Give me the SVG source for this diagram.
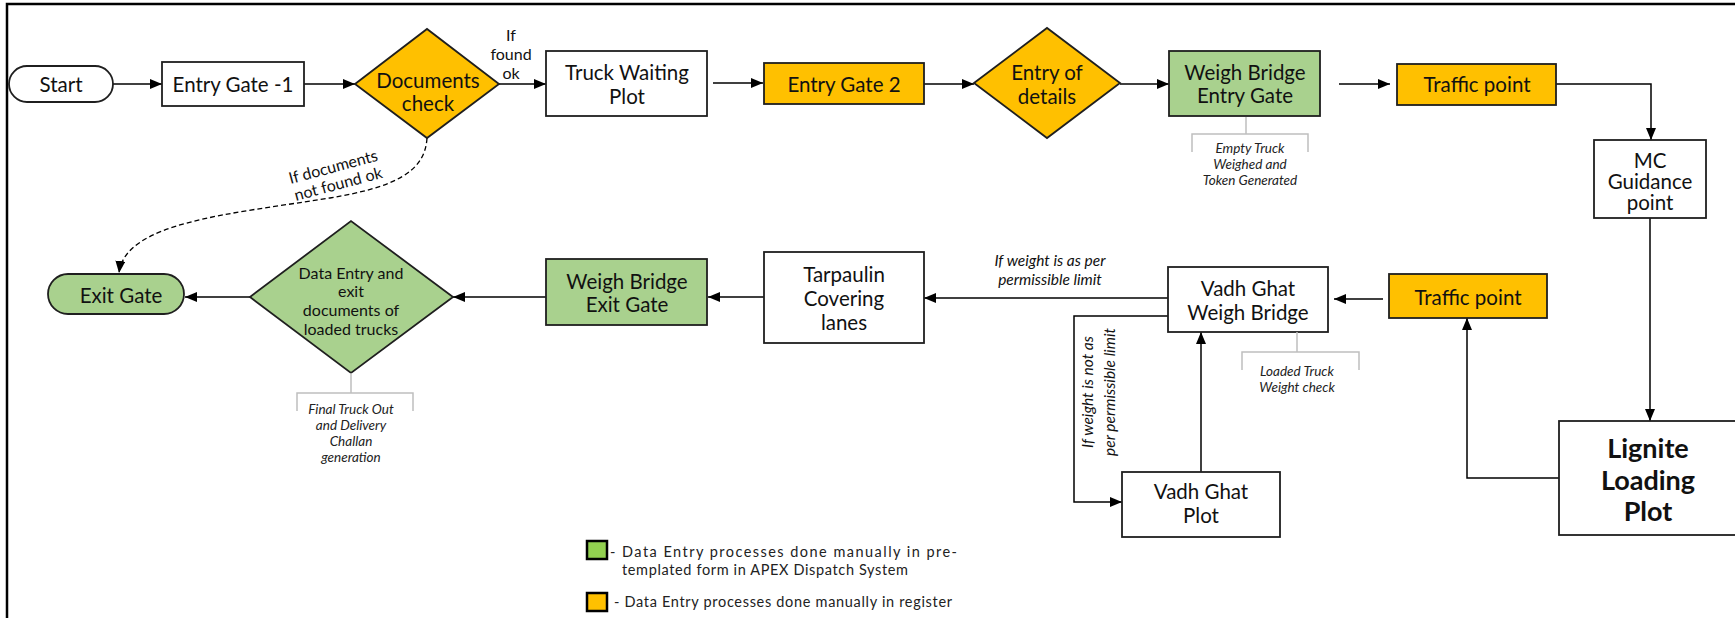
<svg xmlns="http://www.w3.org/2000/svg" width="1735" height="618" viewBox="0 0 1735 618">
<defs>
<marker id="ah" viewBox="0 0 12 10" refX="12" refY="5" markerWidth="12" markerHeight="10" markerUnits="userSpaceOnUse" orient="auto"><path d="M0,0 L12,5 L0,10 z" fill="#000"/></marker>
</defs>
<style>
.n{stroke:#1f1f1f;stroke-width:1.8}
.w{fill:#fff}
.o{fill:#FFC000}
.g{fill:#A9D18E}
.t{font-family:Lato,"Liberation Sans",sans-serif;font-size:20.5px;fill:#111;text-anchor:middle;dominant-baseline:central}
.s{font-size:16px}
.b{font-weight:bold;font-size:27px}
.i{font-family:Lato,"Liberation Sans",sans-serif;font-style:italic;font-size:15.5px;fill:#111;text-anchor:middle;dominant-baseline:central}
.a{font-family:Lato,"Liberation Sans",sans-serif;font-style:italic;font-size:13.5px;fill:#222;text-anchor:middle;dominant-baseline:central}
.lg{font-family:Lato,"Liberation Sans",sans-serif;font-size:14.5px;fill:#222;dominant-baseline:central}
.c{fill:none;stroke:#000;stroke-width:1.5;marker-end:url(#ah)}
.d{fill:none;stroke:#000;stroke-width:1.3;stroke-dasharray:5 3;marker-end:url(#ah)}
.br{fill:none;stroke:#BFBFBF;stroke-width:1.5}
</style>
<rect x="0" y="0" width="1735" height="618" fill="#fff"/>
<path d="M7,618 V4 H1735" fill="none" stroke="#000" stroke-width="2.5"/>

<g id="connectors">
<path class="c" d="M113,84 H162"/>
<path class="c" d="M304,84 H355"/>
<path class="c" d="M499,84 H546"/>
<path class="c" d="M713,83 H763"/>
<path class="c" d="M924,84 H974"/>
<path class="c" d="M1120,84 H1169"/>
<path class="c" d="M1339,84 H1390"/>
<path class="c" d="M1556,84 H1651 V140"/>
<path class="c" d="M1650,218 V421"/>
<path class="c" d="M1559,478 H1467 V318"/>
<path class="c" d="M1383,299 H1334"/>
<path class="c" d="M1201,472 V332"/>
<path class="c" d="M1168,316 H1074 V502 H1122"/>
<path class="c" d="M1168,298 H924"/>
<path class="c" d="M764,297 H708"/>
<path class="c" d="M546,297 H453"/>
<path class="c" d="M250,297 H185"/>
<path class="d" d="M427,138 C425,172 395,187 330,198 C230,214 125,222 119,273"/>
<text class="t s" transform="rotate(-15 333 166)" x="333" y="166">If documents</text>
<text class="t s" transform="rotate(-15 338 183)" x="338" y="183">not found ok</text>
<text class="t s" x="511" y="34">If</text>
<text class="t s" x="511" y="53">found</text>
<text class="t s" x="511" y="72">ok</text>
<text class="i" x="1050" y="260">If weight is as per</text>
<text class="i" x="1050" y="279">permissible limit</text>
<text class="i" transform="rotate(-90 1087 392)" x="1087" y="392">If weight is not as</text>
<text class="i" transform="rotate(-90 1109 392)" x="1109" y="392">per permissible limit</text>
</g>

<g id="start">
<rect class="n w" x="9" y="66" width="104" height="36" rx="18"/>
<text class="t" x="61" y="84">Start</text>
</g>
<g id="entry-gate-1">
<rect class="n w" x="162" y="62" width="142" height="44"/>
<text class="t" x="233" y="84">Entry Gate -1</text>
</g>
<g id="documents-check">
<polygon class="n o" points="355,84 427,29 499,84 427,138"/>
<text class="t" x="428" y="80">Documents</text>
<text class="t" x="428" y="103">check</text>
</g>
<g id="truck-waiting-plot">
<rect class="n w" x="546" y="51" width="161" height="65"/>
<text class="t" x="627" y="72">Truck Waiting</text>
<text class="t" x="627" y="96">Plot</text>
</g>
<g id="entry-gate-2">
<rect class="n o" x="764" y="63" width="160" height="41"/>
<text class="t" x="844" y="84">Entry Gate 2</text>
</g>
<g id="entry-of-details">
<polygon class="n o" points="974,83 1047,28 1120,83 1047,138"/>
<text class="t" x="1047" y="72">Entry of</text>
<text class="t" x="1047" y="96">details</text>
</g>
<g id="weigh-bridge-entry-gate">
<rect class="n g" x="1169" y="51" width="151" height="65"/>
<text class="t" x="1245" y="72">Weigh Bridge</text>
<text class="t" x="1245" y="95">Entry Gate</text>
<path class="br" d="M1246,117 V134 M1192,152 V134 H1308 V152"/>
<text class="a" x="1250" y="148">Empty Truck</text>
<text class="a" x="1250" y="164">Weighed and</text>
<text class="a" x="1250" y="180">Token Generated</text>
</g>
<g id="traffic-point-1">
<rect class="n o" x="1397" y="64" width="159" height="41"/>
<text class="t" x="1477" y="84">Traffic point</text>
</g>
<g id="mc-guidance-point">
<rect class="n w" x="1594" y="140" width="112" height="78"/>
<text class="t" x="1650" y="160">MC</text>
<text class="t" x="1650" y="181">Guidance</text>
<text class="t" x="1650" y="202">point</text>
</g>
<g id="lignite-loading-plot">
<rect class="n w" x="1559" y="421" width="182" height="114"/>
<text class="t b" x="1648" y="447">Lignite</text>
<text class="t b" x="1648" y="479">Loading</text>
<text class="t b" x="1648" y="510">Plot</text>
</g>
<g id="traffic-point-2">
<rect class="n o" x="1389" y="274" width="158" height="44"/>
<text class="t" x="1468" y="297">Traffic point</text>
</g>
<g id="vadh-ghat-weigh-bridge">
<rect class="n w" x="1168" y="267" width="160" height="65"/>
<text class="t" x="1248" y="288">Vadh Ghat</text>
<text class="t" x="1248" y="312">Weigh Bridge</text>
<path class="br" d="M1297,332 V352 M1242,370 V352 H1359 V370"/>
<text class="a" x="1297" y="371">Loaded Truck</text>
<text class="a" x="1297" y="387">Weight check</text>
</g>
<g id="vadh-ghat-plot">
<rect class="n w" x="1122" y="472" width="158" height="65"/>
<text class="t" x="1201" y="491">Vadh Ghat</text>
<text class="t" x="1201" y="515">Plot</text>
</g>
<g id="tarpaulin-covering-lanes">
<rect class="n w" x="764" y="252" width="160" height="91"/>
<text class="t" x="844" y="274">Tarpaulin</text>
<text class="t" x="844" y="298">Covering</text>
<text class="t" x="844" y="322">lanes</text>
</g>
<g id="weigh-bridge-exit-gate">
<rect class="n g" x="546" y="259" width="161" height="66"/>
<text class="t" x="627" y="281">Weigh Bridge</text>
<text class="t" x="627" y="304">Exit Gate</text>
</g>
<g id="data-entry-exit">
<polygon class="n g" points="250,297 351,221 453,297 351,373"/>
<text class="t s" x="351" y="272">Data Entry and</text>
<text class="t s" x="351" y="290">exit</text>
<text class="t s" x="351" y="309">documents of</text>
<text class="t s" x="351" y="328">loaded trucks</text>
<path class="br" d="M351,373 V393 M297,411 V393 H413 V411"/>
<text class="a" x="351" y="409">Final Truck Out</text>
<text class="a" x="351" y="425">and Delivery</text>
<text class="a" x="351" y="441">Challan</text>
<text class="a" x="351" y="457">generation</text>
</g>
<g id="exit-gate">
<rect class="n g" x="48" y="274" width="136" height="40" rx="20"/>
<text class="t" x="121" y="295">Exit Gate</text>
</g>

<g id="legend">
<rect x="587" y="541" width="20" height="18" fill="#92D050" stroke="#000" stroke-width="2.5"/>
<text class="lg" x="610" y="551" textLength="347" lengthAdjust="spacing">- Data Entry processes done manually in pre-</text>
<text class="lg" x="622" y="569" textLength="286" lengthAdjust="spacing">templated form in APEX Dispatch System</text>
<rect x="587" y="593" width="20" height="18" fill="#FFC000" stroke="#000" stroke-width="2.5"/>
<text class="lg" x="614" y="601" textLength="338" lengthAdjust="spacing">- Data Entry processes done manually in register</text>
</g>
</svg>
